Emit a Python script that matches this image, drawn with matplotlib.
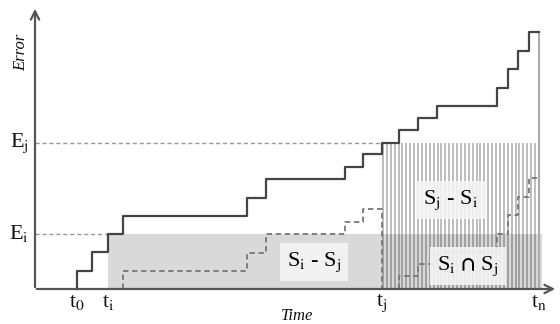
import matplotlib
matplotlib.use('Agg')
import matplotlib.pyplot as plt
import numpy as np

# ---- data (time units / error units) ----
step_times = [42, 57, 73, 88, 212, 231, 310, 328, 347, 364, 383, 402, 462, 473, 483, 494]
error_levels = [18, 37, 55, 73, 91, 110, 122, 135, 146, 159, 171, 183, 201, 220, 238, 257]
t0, ti, tj, tn = 42, 73, 347, 504
E_i, E_j = 55, 146
t_labels = [r't$_\mathrm{0}$', r't$_\mathrm{i}$', r't$_\mathrm{j}$', r't$_\mathrm{n}$']
E_labels = [r'E$_\mathrm{i}$', r'E$_\mathrm{j}$']
region_labels = [r'S$_\mathrm{j}$ - S$_\mathrm{i}$',
                 r'S$_\mathrm{i}$ - S$_\mathrm{j}$',
                 r'S$_\mathrm{i}$ $\mathbf{\cap}$ S$_\mathrm{j}$']

plt.rcParams['mathtext.fontset'] = 'stix'
plt.rcParams['font.family'] = ['Liberation Serif', 'DejaVu Serif']

fig = plt.figure(figsize=(5.6, 3.24), dpi=100)
ax = fig.add_axes([0, 0, 1, 1])
ax.set_xlim(-35, 525)
ax.set_ylim(-35, 289)
ax.axis('off')

st = np.array(step_times)
lv = np.array(error_levels)

# shaded S_i region
ax.fill_between([ti, tn + 3], 0, E_i, color='#d9d9d9', lw=0, zorder=1)
# hatched S_j region
hx = np.arange(tj + 1, tn + 1, 3.9)
ax.vlines(hx, 0, E_j, colors='black', alpha=0.33, lw=1.1, zorder=2)

# dotted guide lines
ax.plot([0, tj], [E_j, E_j], color='#999999', lw=1.0, ls=(0, (3, 2)), zorder=3)
ax.plot([0, ti], [E_i, E_i], color='#999999', lw=1.0, ls=(0, (3, 2)), zorder=3)

# solid error curve
xs = np.concatenate([[t0], st, [tn]])
ys = np.concatenate([[0], lv, [lv[-1]]])
ax.plot(xs, ys, drawstyle='steps-post', color='#444444', lw=1.6, zorder=5)
ax.plot([tn, tn], [0, lv[-1]], color='#aaaaaa', lw=1.5, zorder=4)

# dashed curve 1 (relative to E_i)
m1 = (st > ti) & (st < tj)
x1 = np.concatenate([[st[m1][0]], st[m1], [tj, tj]])
y1 = np.concatenate([[0], lv[m1] - E_i, [lv[m1][-1] - E_i, 0]])
ax.plot(x1, y1, drawstyle='steps-post', color='#777777', lw=1.3, ls=(0, (3, 2)), zorder=5)

# dashed curve 2 (relative to E_j)
m2 = st > tj
x2 = np.concatenate([[st[m2][0]], st[m2], [tn]])
y2 = np.concatenate([[0], lv[m2] - E_j, [lv[m2][-1] - E_j]])
ax.plot(x2, y2, drawstyle='steps-post', color='#777777', lw=1.3, ls=(0, (3, 2)), zorder=5)

# axes with arrows
ax.annotate('', xy=(0, 283), xytext=(0, -1),
            arrowprops=dict(arrowstyle='->,head_length=0.6,head_width=0.3', color='#555555', lw=1.6), zorder=6)
ax.annotate('', xy=(523, 0), xytext=(-1, 0),
            arrowprops=dict(arrowstyle='->,head_length=0.6,head_width=0.3', color='#555555', lw=1.6), zorder=6)

# labels
for t, lab in zip([t0, ti, tj, tn], t_labels):
    ax.text(t, -4, lab, ha='center', va='top', fontsize=16, color='#111111')
for e, lab in zip([E_i, E_j], E_labels):
    ax.text(-6, e, lab, ha='right', va='center', fontsize=16, color='#111111')
ax.text(262, -27, 'Time', style='italic', ha='center', va='center', fontsize=12, color='#111111')
ax.text(-14, 237, 'Error', style='italic', rotation=90, ha='center', va='center', fontsize=12, color='#111111')

box = dict(facecolor='#f4f4f4', alpha=0.9, edgecolor='none', pad=5)
ax.text(416, 89, region_labels[0], ha='center', va='center', fontsize=16, bbox=box, zorder=7)
ax.text(279, 27, region_labels[1], ha='center', va='center', fontsize=16, bbox=box, zorder=7)
ax.text(433, 23, region_labels[2], ha='center', va='center', fontsize=16, bbox=box, zorder=7)

fig.savefig('out.png', dpi=100)
